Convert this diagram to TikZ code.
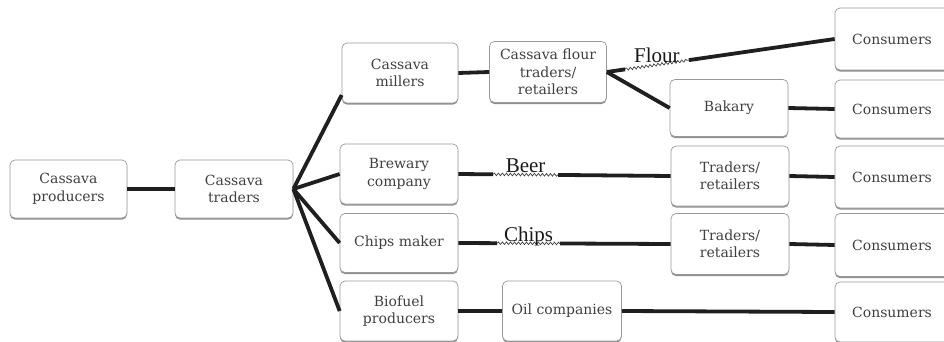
\documentclass[tikz,border=0pt]{standalone}
\usepackage{fontspec}
\newfontfamily\boxfont{DejaVu Serif}
\newfontfamily\lblfont{Liberation Serif}
\usetikzlibrary{calc,shadows,decorations.pathmorphing}
\tikzset{
  stage/.style={draw=black!40, line width=0.7pt, rounded corners=5pt, fill=white,
    align=center, text=black!75, font=\boxfont\fontsize{14}{17.5}\selectfont, inner sep=2pt,
    drop shadow={shadow xshift=0pt, shadow yshift=-1.6pt, fill=black!55, opacity=0.8}},
  link/.style={line width=3.8pt, draw=black!88},
  wave/.style={draw=black!75, line width=0.7pt, decorate,
    decoration={snake, amplitude=1.3pt, segment length=4pt}},
  product/.style={font=\lblfont\fontsize{21}{23}\selectfont, anchor=base, inner sep=0pt, text=black!90},
}
\begin{document}
\begin{tikzpicture}[x=1pt, y=-1pt]
  \useasboundingbox (0,0) rectangle (944,342);

  % stages of the chain
  \node[stage, minimum width=117pt, minimum height=58pt] (prod)    at (68.5,189) {Cassava\\producers};
  \node[stage, minimum width=118pt, minimum height=58pt] (trad)    at (234,189)  {Cassava\\traders};
  \node[stage, minimum width=116pt, minimum height=60pt] (mill)    at (400,73)   {Cassava\\millers};
  \node[stage, minimum width=117pt, minimum height=61pt] (flourtr) at (548,72)   {Cassava flour\\traders/\\retailers};
  \node[stage, minimum width=118pt, minimum height=57pt] (bak)     at (729,108)  {Bakary};
  \node[stage, minimum width=118pt, minimum height=60pt] (brew)    at (399,174)  {Brewary\\company};
  \node[stage, minimum width=118pt, minimum height=59pt] (chips)   at (399,243)  {Chips maker};
  \node[stage, minimum width=118pt, minimum height=60pt] (bio)     at (399,311)  {Biofuel\\producers};
  \node[stage, minimum width=119pt, minimum height=60pt] (oil)     at (562,311)  {Oil companies};
  \node[stage, minimum width=118pt, minimum height=60pt] (tr1)     at (730,176)  {Traders/\\retailers};
  \node[stage, minimum width=118pt, minimum height=61pt] (tr2)     at (730,244)  {Traders/\\retailers};

  % consumers column
  \node[stage, minimum width=114pt, minimum height=62pt] (con1) at (892,39)  {Consumers};
  \node[stage, minimum width=114pt, minimum height=58pt] (con2) at (892,109) {Consumers};
  \node[stage, minimum width=114pt, minimum height=62pt] (con3) at (892,177) {Consumers};
  \node[stage, minimum width=114pt, minimum height=63pt] (con4) at (892,245) {Consumers};
  \node[stage, minimum width=114pt, minimum height=60pt] (con5) at (892,312) {Consumers};

  % plain links
  \draw[link] (prod.east) -- (trad.west);
  \draw[link] (trad.east) -- ($(mill.west)+(0,22)$);
  \draw[link] (trad.east) -- (brew.west);
  \draw[link] (trad.east) -- (chips.west);
  \draw[link] (trad.east) -- (bio.west);
  \draw[link] (mill.east) -- (flourtr.west);
  \draw[link] (flourtr.east) -- (bak.west);
  \draw[link] (bak.east) -- (con2.west);
  \draw[link] (tr1.east) -- (con3.west);
  \draw[link] (tr2.east) -- (con4.west);
  \draw[link] (bio.east) -- (oil.west);
  \draw[link] (oil.east) -- (con5.west);

  % flour link
  \coordinate (f1) at ($(flourtr.east)!0.08!(con1.west)$);
  \coordinate (f2) at ($(flourtr.east)!0.36!(con1.west)$);
  \draw[link] (flourtr.east) -- (f1);
  \draw[wave] (f1) -- (f2);
  \draw[link] (f2) -- (con1.west);
  \node[product] (flourlbl) at ($(f1)!0.5!(f2)+(0,-2)$) {Flour};

  % beer link
  \coordinate (b1) at ($(brew.east)!0.164!(tr1.west)$);
  \coordinate (b2) at ($(brew.east)!0.47!(tr1.west)$);
  \draw[link] (brew.east) -- (b1);
  \draw[wave] (b1) -- (b2);
  \draw[link] (b2) -- (tr1.west);
  \node[product] (beerlbl) at ($(b1)!0.5!(b2)+(0,-2)$) {Beer};

  % chips link
  \coordinate (c1) at ($(chips.east)!0.183!(tr2.west)$);
  \coordinate (c2) at ($(chips.east)!0.479!(tr2.west)$);
  \draw[link] (chips.east) -- (c1);
  \draw[wave] (c1) -- (c2);
  \draw[link] (c2) -- (tr2.west);
  \node[product] (chipslbl) at ($(c1)!0.5!(c2)+(0,-2)$) {Chips};
\end{tikzpicture}
\end{document}
